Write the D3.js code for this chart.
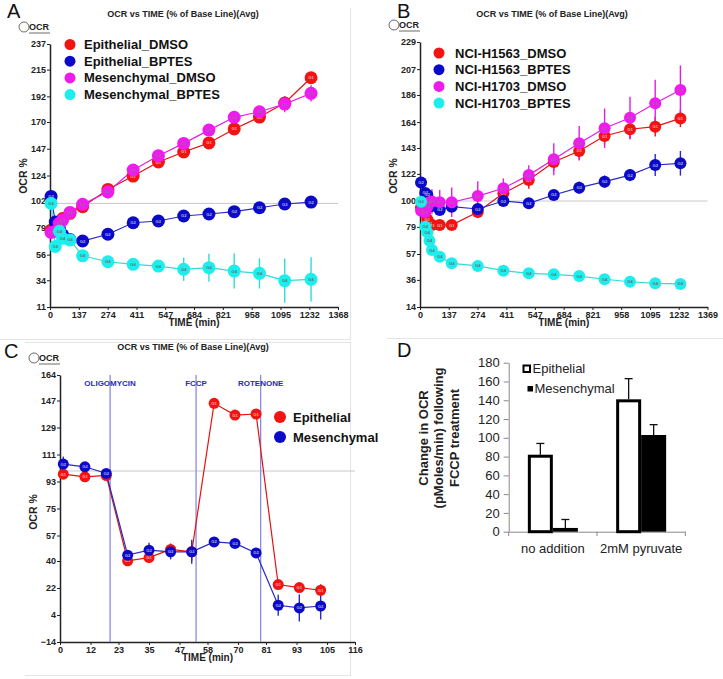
<!DOCTYPE html>
<html><head><meta charset="utf-8">
<script src="https://cdn.jsdelivr.net/npm/d3@7/dist/d3.min.js"></script>
<style>body{margin:0;background:#fff}svg{display:block}</style>
</head><body>
<script>
// ---------- DATA ----------
const timesA = [5, 25, 45, 60, 95, 155, 275, 395, 515, 635, 755, 875, 995, 1115, 1240];
const epiDmsoA = [77, 79, 83, 87, 91.5, 97.2, 112, 123.5, 135.6, 144.2, 152, 164, 174.2, 186.3, 208];
const epiBptesA = [106, 84, 78, 73, 69, 67.7, 73.5, 83.4, 84.9, 89.2, 90.9, 92.9, 96.3, 99.5, 101.2];
const mesDmsoA = [75, 76, 83, 85.7, 92.3, 99.2, 110, 128.7, 141, 151.6, 163, 174, 178.8, 185.4, 194.6];
const mesBptesA = [100, 63, 76, 70, 68.6, 55, 49.9, 47.7, 46.2, 43.4, 44.8, 41.9, 39.9, 33.6, 34.8];
const epiDmsoErrA = [2, 2, 2, 2, 3, 3, 3, 3, 3, 3, 3, 3, 3, 3, 5];
const epiBptesErrA = [2, 2, 2, 2, 2, 2, 2, 2, 2, 2, 2, 2, 2, 2, 2];
const mesDmsoErrA = [2, 2, 2, 2, 4, 5, 6, 3, 3, 3, 3, 3, 3, 7, 7];
const mesBptesErrA = [3, 3, 3, 3, 3, 3, 3, 3, 5, 10, 12, 15, 13, 19, 19];
const yTicksA = [11, 34, 56, 79, 102, 124, 147, 170, 192, 215, 237];
const xTicksA = [0, 137, 274, 411, 547, 684, 821, 958, 1095, 1232, 1368];

const timesB = [5, 25, 35, 45, 57, 94, 151, 275, 397, 518, 637, 758, 879, 1000, 1120, 1240];
const h1563DmsoB = [95, 90, 85, 82, 80.5, 80.5, 80.5, 91, 106.2, 117, 131.6, 140.6, 152.7, 158.2, 160.3, 167];
const h1563BptesB = [115, 106.5, 104.9, 98, 96, 92.7, 95.4, 93.5, 100, 98.1, 104.9, 110.8, 115.7, 121, 129.2, 130.6];
const h1703DmsoB = [92, 91, 95.4, 99, 99.6, 99, 99, 104, 110.3, 121, 133.8, 146.8, 159, 167.6, 179.3, 190];
const h1703BptesB = [99.4, 79.2, 74.6, 67.8, 60.2, 54.8, 49.4, 47.3, 43.5, 41.3, 40.5, 39.1, 36.5, 34.5, 33.2, 32.7];
const h1563DmsoErrB = [3, 3, 3, 3, 3, 3, 3, 5, 6, 7, 7, 7, 7, 8, 8, 7];
const h1563BptesErrB = [3, 3, 3, 3, 3, 3, 3, 3, 3, 3, 4, 5, 5, 5, 9, 10];
const h1703DmsoErrB = [5, 8, 10, 10, 10, 10, 12, 12, 8, 8, 13, 14, 16, 17, 19, 20];
const h1703BptesErrB = [2, 2, 2, 2, 2, 2, 2, 2, 2, 2, 2, 2, 2, 2, 2, 2];
const yTicksB = [14, 36, 57, 79, 100, 122, 143, 164, 186, 207, 229];
const xTicksB = [0, 137, 274, 411, 547, 684, 821, 958, 1095, 1232, 1369];

const timesC = [1.3, 9.8, 18.2, 26.6, 35, 43.5, 51.8, 60.6, 68.8, 77.1, 85.8, 94.1, 102.5];
const epiC = [97.9, 96.1, 97, 40.1, 42.3, 47.7, 46.1, 145.1, 137.3, 138, 24.3, 22.3, 20.5];
const mesC = [104.6, 102.8, 98.4, 43.9, 47.2, 46.1, 46.1, 52.7, 51.7, 45.4, 10.5, 8.7, 10];
const epiErrC = [2, 2, 2, 2, 3, 4, 6, 2, 2, 2, 3, 3, 4];
const mesErrC = [5, 3, 2, 3, 5, 5, 8, 2, 2, 3, 7, 9, 9];
const injectionNames = ["OLIGOMYCIN", "FCCP", "ROTENONE"];
const injectionTimes = [19.7, 53.5, 78.9];
const yTicksC = [-14, 4, 22, 40, 57, 75, 93, 111, 129, 147, 164];
const xTicksC = [0, 12, 23, 35, 47, 58, 70, 81, 93, 105, 116];

const categoriesD = ["no addition", "2mM pyruvate"];
const epithelialD = [82, 141];
const epithelialErrD = [12, 22];
const mesenchymalD = [4, 103];
const mesenchymalErrD = [9, 11];
const yTicksD = [0, 20, 40, 60, 80, 100, 120, 140, 160, 180];

// ---------- COLORS ----------
const RED = "#f21313", BLUE = "#0a0ac8", MAG = "#ee1aee", CYAN = "#1ceeee";

const svg = d3.select("body").append("svg").attr("width", 723).attr("height", 679)
  .style("font-family", "Arial, 'Liberation Sans', sans-serif");

// faint panel frames
const frame = svg.append("g").attr("stroke", "#e4e4e4").attr("stroke-width", 1.2).attr("fill", "none");
frame.append("path").attr("d", "M0,339.5H350.5V8");
frame.append("path").attr("d", "M387,338.5H723");
frame.append("path").attr("d", "M25,342.5H350.5V675.5H25");

function linePanel(cfg) {
  const g = svg.append("g");
  const x = d3.scaleLinear().domain(cfg.xDomain).range([cfg.x0, cfg.x1]);
  const y = d3.scaleLinear().domain(cfg.yDomain).range([cfg.yb, cfg.yt]);
  g.append("text").attr("x", cfg.letterX).attr("y", cfg.letterY).text(cfg.letter)
    .attr("font-size", 20).attr("fill", "#111");
  g.append("text").attr("x", cfg.titleX).attr("y", cfg.titleY).attr("text-anchor", "middle")
    .attr("font-size", 9).attr("font-weight", "bold").attr("fill", "#222")
    .text("OCR vs TIME (% of Base Line)(Avg)");
  g.append("circle").attr("cx", cfg.x0 - 26).attr("cy", cfg.yt - 17).attr("r", 5)
    .attr("fill", "none").attr("stroke", "#444").attr("stroke-width", 0.8);
  g.append("text").attr("x", cfg.x0 - 21).attr("y", cfg.yt - 14).text("OCR")
    .attr("font-size", 9).attr("font-weight", "bold").attr("fill", "#222");
  g.append("line").attr("x1", cfg.x0 - 21).attr("x2", cfg.x0).attr("y1", cfg.yt - 11).attr("y2", cfg.yt - 11)
    .attr("stroke", "#444").attr("stroke-width", 0.8);
  g.append("line").attr("x1", cfg.x0).attr("x2", cfg.x1).attr("y1", y(100)).attr("y2", y(100))
    .attr("stroke", "#c8c8c8").attr("stroke-width", 1);
  const ya = g.append("g").attr("transform", `translate(${cfg.x0},0)`)
    .call(d3.axisLeft(y).tickValues(cfg.yTicks).tickSize(3).tickSizeOuter(0).tickFormat(d3.format("d")));
  const xa = g.append("g").attr("transform", `translate(0,${cfg.yb})`)
    .call(d3.axisBottom(x).tickValues(cfg.xTicks).tickSize(3).tickSizeOuter(0).tickFormat(d3.format("d")));
  [ya, xa].forEach(a => {
    a.selectAll("text").attr("font-size", 9).attr("font-weight", "bold").attr("fill", "#222").attr("font-family", "Arial, 'Liberation Sans', sans-serif");
    a.select(".domain").attr("stroke", "#222").attr("stroke-width", 1.5);
    a.selectAll(".tick line").attr("stroke", "#222");
  });
  ya.selectAll("text").attr("x", -4);
  xa.selectAll("text").attr("y", 5);
  g.append("text").attr("x", (cfg.x0 + cfg.x1) / 2).attr("y", cfg.yb + 19).attr("text-anchor", "middle")
    .attr("font-size", 10).attr("font-weight", "bold").attr("fill", "#222").text("TIME (min)");
  g.append("text").attr("transform", `translate(${cfg.x0 - 23},${cfg.yLabelY}) rotate(-90)`)
    .attr("text-anchor", "middle").attr("font-size", 10.5).attr("font-weight", "bold").attr("fill", "#222").text("OCR %");
  if (cfg.injections) {
    cfg.injections.names.forEach((n, i) => {
      const xx = x(cfg.injections.times[i]);
      g.append("line").attr("x1", xx).attr("x2", xx).attr("y1", cfg.yt).attr("y2", cfg.yb)
        .attr("stroke", "#8a8ae0").attr("stroke-width", 1.3);
      g.append("text").attr("x", xx).attr("y", cfg.yt + 11).attr("text-anchor", "middle")
        .attr("font-size", 8).attr("font-weight", "bold").attr("fill", "#2a2ac0").text(n);
    });
  }
  const line = d3.line().x(d => x(d.t)).y(d => y(d.v));
  cfg.series.forEach(s => {
    const pts = cfg.times.map((t, i) => ({ t, v: s.values[i], e: s.err[i] }));
    g.append("path").datum(pts).attr("d", line).attr("fill", "none").attr("stroke", s.line).attr("stroke-width", 1.2);
    g.append("g").selectAll("line").data(pts).join("line")
      .attr("x1", d => x(d.t)).attr("x2", d => x(d.t)).attr("y1", d => y(d.v - d.e)).attr("y2", d => y(d.v + d.e))
      .attr("stroke", s.line).attr("stroke-width", 1.4);
  });
  cfg.series.forEach(s => {
    const pts = cfg.times.map((t, i) => ({ t, v: s.values[i] }));
    const mg = g.append("g");
    mg.selectAll("circle").data(pts).join("circle")
      .attr("cx", d => x(d.t)).attr("cy", d => y(d.v)).attr("r", cfg.r).attr("fill", s.color);
    mg.selectAll("text").data(pts).join("text")
      .attr("x", d => x(d.t)).attr("y", d => y(d.v) + 1.5).attr("text-anchor", "middle")
      .attr("font-size", 4.2).attr("font-weight", "bold").attr("fill", s.labelColor).text(s.tag);
  });
  cfg.series.forEach((s, i) => {
    const ly = cfg.legY + i * cfg.legStep;
    g.append("circle").attr("cx", cfg.legX).attr("cy", ly).attr("r", cfg.legR).attr("fill", s.color);
    g.append("text").attr("x", cfg.legX + cfg.legDx).attr("y", ly + 4.5).attr("font-size", 13)
      .attr("font-weight", "bold").attr("fill", "#111").text(s.name);
  });
}

linePanel({
  letter: "A", letterX: 7, letterY: 18, titleX: 183, titleY: 17,
  x0: 50, x1: 338, yb: 307, yt: 44, xDomain: [0, 1368], yDomain: [11, 237],
  yTicks: yTicksA, xTicks: xTicksA, yLabelY: 176, r: 6.5, times: timesA,
  legX: 70, legY: 44.5, legStep: 16.7, legR: 5.5, legDx: 14,
  series: [
    { name: "Epithelial_DMSO", values: epiDmsoA, err: epiDmsoErrA, color: RED, line: "#e51010", tag: "G1", labelColor: "#f4b0b0" },
    { name: "Epithelial_BPTES", values: epiBptesA, err: epiBptesErrA, color: BLUE, line: "#2a2ac0", tag: "G2", labelColor: "#b0b0e8" },
    { name: "Mesenchymal_DMSO", values: mesDmsoA, err: mesDmsoErrA, color: MAG, line: "#e020e0", tag: "G3", labelColor: "#9a6a9a" },
    { name: "Mesenchymal_BPTES", values: mesBptesA, err: mesBptesErrA, color: CYAN, line: "#30dada", tag: "G4", labelColor: "#5a7a7a" }
  ]
});

linePanel({
  letter: "B", letterX: 397, letterY: 18, titleX: 552, titleY: 17,
  x0: 420, x1: 707.5, yb: 307, yt: 42, xDomain: [0, 1369], yDomain: [14, 229],
  yTicks: yTicksB, xTicks: xTicksB, yLabelY: 176, r: 6, times: timesB,
  legX: 439, legY: 53, legStep: 16.7, legR: 5.5, legDx: 16,
  series: [
    { name: "NCI-H1563_DMSO", values: h1563DmsoB, err: h1563DmsoErrB, color: RED, line: "#e51010", tag: "G1", labelColor: "#f4b0b0" },
    { name: "NCI-H1563_BPTES", values: h1563BptesB, err: h1563BptesErrB, color: BLUE, line: "#2a2ac0", tag: "G2", labelColor: "#b0b0e8" },
    { name: "NCI-H1703_DMSO", values: h1703DmsoB, err: h1703DmsoErrB, color: MAG, line: "#e020e0", tag: "G3", labelColor: "#9a6a9a" },
    { name: "NCI-H1703_BPTES", values: h1703BptesB, err: h1703BptesErrB, color: CYAN, line: "#30dada", tag: "G4", labelColor: "#5a7a7a" }
  ]
});

linePanel({
  letter: "C", letterX: 4, letterY: 358, titleX: 193, titleY: 350,
  x0: 60, x1: 355, yb: 642, yt: 375, xDomain: [0, 116], yDomain: [-14, 164],
  yTicks: yTicksC, xTicks: xTicksC, yLabelY: 512, r: 5.5, times: timesC,
  legX: 280, legY: 417, legStep: 20, legR: 6, legDx: 13,
  injections: { names: injectionNames, times: injectionTimes },
  series: [
    { name: "Epithelial", values: epiC, err: epiErrC, color: RED, line: "#e51010", tag: "G1", labelColor: "#f4b0b0" },
    { name: "Mesenchymal", values: mesC, err: mesErrC, color: BLUE, line: "#2a2ac0", tag: "G2", labelColor: "#b0b0e8" }
  ]
});

// ---------- PANEL D ----------
(function () {
  const g = svg.append("g");
  const x = d3.scaleBand().domain(categoriesD).range([508.7, 685.3]);
  const y = d3.scaleLinear().domain([0, 180]).range([531.7, 362.7]);
  const bw = 25;
  g.append("text").attr("x", 397).attr("y", 357).attr("font-size", 20).attr("fill", "#111").text("D");
  const ya = g.append("g").attr("transform", "translate(508.7,0)")
    .call(d3.axisLeft(y).tickValues(yTicksD).tickSize(5).tickSizeOuter(0));
  ya.select(".domain").attr("stroke", "#888");
  ya.selectAll(".tick line").attr("stroke", "#888");
  ya.selectAll("text").attr("font-size", 13).attr("fill", "#222").attr("x", -9)
    .attr("font-family", "Arial, 'Liberation Sans', sans-serif");
  const xa = g.append("g").attr("transform", "translate(0,531.7)")
    .call(d3.axisBottom(x).tickSize(0).tickSizeOuter(0));
  xa.select(".domain").attr("stroke", "#888");
  xa.selectAll("text").attr("font-size", 13).attr("fill", "#222").attr("y", 12)
    .attr("font-family", "Arial, 'Liberation Sans', sans-serif");
  [x.range()[0], x("2mM pyruvate"), x.range()[1]].forEach(v => {
    g.append("line").attr("x1", v).attr("x2", v).attr("y1", 531.7).attr("y2", 536).attr("stroke", "#888");
  });
  const cx = c => x(c) + x.bandwidth() / 2;
  const errG = g.append("g").attr("stroke", "#111").attr("stroke-width", 1.3);
  categoriesD.forEach((c, i) => {
    [[cx(c) - bw / 2, epithelialD[i], epithelialErrD[i]], [cx(c) + bw / 2, mesenchymalD[i], mesenchymalErrD[i]]].forEach(([xx, v, e]) => {
      errG.append("line").attr("x1", xx).attr("x2", xx).attr("y1", y(v)).attr("y2", y(v + e));
      errG.append("line").attr("x1", xx - 4).attr("x2", xx + 4).attr("y1", y(v + e)).attr("y2", y(v + e));
    });
  });
  g.append("g").selectAll("rect").data(categoriesD).join("rect")
    .attr("x", (c) => cx(c) - bw + 1.5).attr("width", bw - 3)
    .attr("y", (c, i) => y(epithelialD[i]) + 1.5).attr("height", (c, i) => y(0) - y(epithelialD[i]) - 1.5)
    .attr("fill", "#fff").attr("stroke", "#000").attr("stroke-width", 3);
  g.append("g").selectAll("rect").data(categoriesD).join("rect")
    .attr("x", c => cx(c)).attr("width", bw)
    .attr("y", (c, i) => y(mesenchymalD[i])).attr("height", (c, i) => y(0) - y(mesenchymalD[i]))
    .attr("fill", "#000");
  g.append("rect").attr("x", 523.5).attr("y", 365.5).attr("width", 6.5).attr("height", 6.5)
    .attr("fill", "#fff").attr("stroke", "#000").attr("stroke-width", 2);
  g.append("text").attr("x", 532.5).attr("y", 372.5).attr("font-size", 13).attr("fill", "#222").text("Epithelial");
  g.append("rect").attr("x", 527.5).attr("y", 386).attr("width", 5.5).attr("height", 5.5).attr("fill", "#000");
  g.append("text").attr("x", 534.5).attr("y", 392.5).attr("font-size", 13).attr("fill", "#222").text("Mesenchymal");
  const lab = g.append("text").attr("transform", "translate(438,438) rotate(-90)").attr("text-anchor", "middle")
    .attr("font-size", 13).attr("font-weight", "bold").attr("fill", "#222");
  ["Change in OCR", "(pMoles/min) following", "FCCP treatment"].forEach((t, i) => {
    lab.append("tspan").attr("x", 0).attr("dy", i === 0 ? -10.5 : 15.5).text(t);
  });
})();
</script>
</body></html>
